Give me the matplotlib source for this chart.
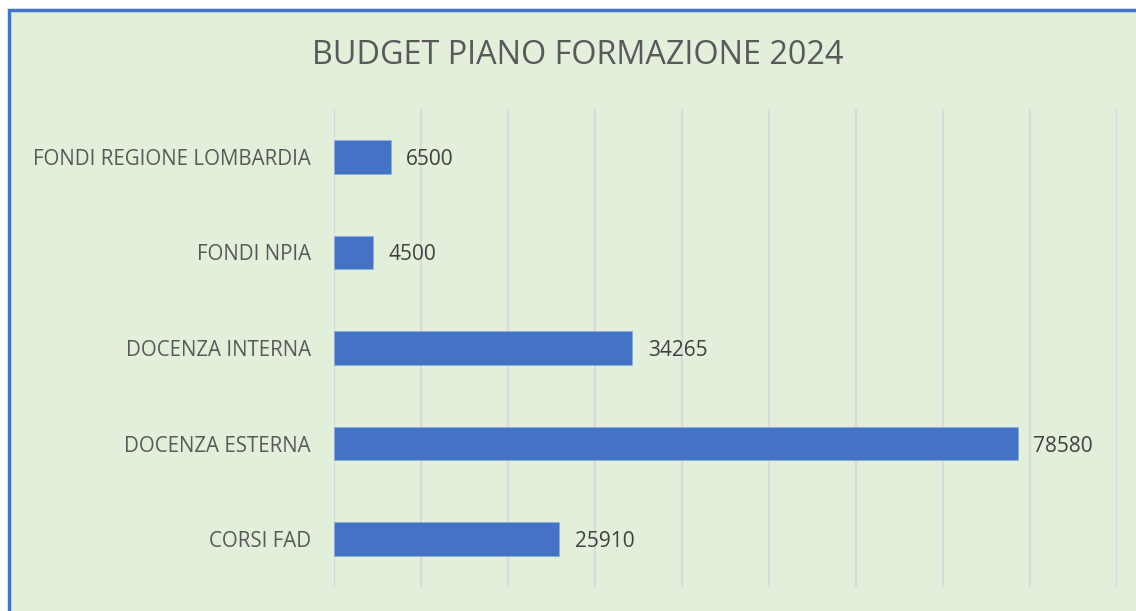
import matplotlib.pyplot as plt
from matplotlib.patches import Rectangle

# dati
categorie = ['CORSI FAD', 'DOCENZA ESTERNA', 'DOCENZA INTERNA', 'FONDI NPIA', 'FONDI REGIONE LOMBARDIA']
valori = [25910, 78580, 34265, 4500, 6500]
titolo = 'BUDGET PIANO FORMAZIONE 2024'

sfondo = '#E2EFDA'
blu = '#4472C4'
grigio_testo = '#595959'

plt.rcParams['font.family'] = ['Open Sans', 'DejaVu Sans']

fig = plt.figure(figsize=(11.36, 6.11), dpi=100)
fig.patch.set_facecolor('white')

# riquadro del grafico con bordo blu (solo alto e sinistra visibili)
fig.patches.append(Rectangle((9 / 1136, -0.05), 1.2, 1 - 10 / 611 + 0.05,
                             transform=fig.transFigure, facecolor=sfondo,
                             edgecolor=blu, linewidth=2.5, zorder=-1))

ax = fig.add_axes([334 / 1136, 1 - 587 / 611, (1117 - 334) / 1136, (587 - 109) / 611])
ax.set_zorder(2)
ax.set_facecolor('none')

pos = range(len(categorie))
ax.barh(pos, valori, height=0.35, color=blu, edgecolor='#8FAADC', linewidth=0.5, zorder=3)

for p, v in zip(pos, valori):
    ax.text(v + 1800, p, str(v), va='center_baseline', ha='left', fontsize=15, color='#404040')

ax.set_xlim(0, 90000)
ax.set_ylim(-0.5, len(categorie) - 0.5)
ax.set_xticks(range(0, 90001, 10000))
ax.xaxis.grid(True, color='#D9D9D9', linewidth=1.5, zorder=0)
ax.tick_params(axis='x', length=0, labelbottom=False)
ax.tick_params(axis='y', length=0, pad=16.5)
ax.set_yticks(list(pos))
ax.set_yticklabels(categorie, fontsize=14.8, color=grigio_testo)
for s in ax.spines.values():
    s.set_visible(False)

fig.text(578 / 1136, 1 - 56 / 611, titolo, ha='center', va='center', fontsize=23.3, color=grigio_testo)

fig.savefig('out.png', dpi=100)
